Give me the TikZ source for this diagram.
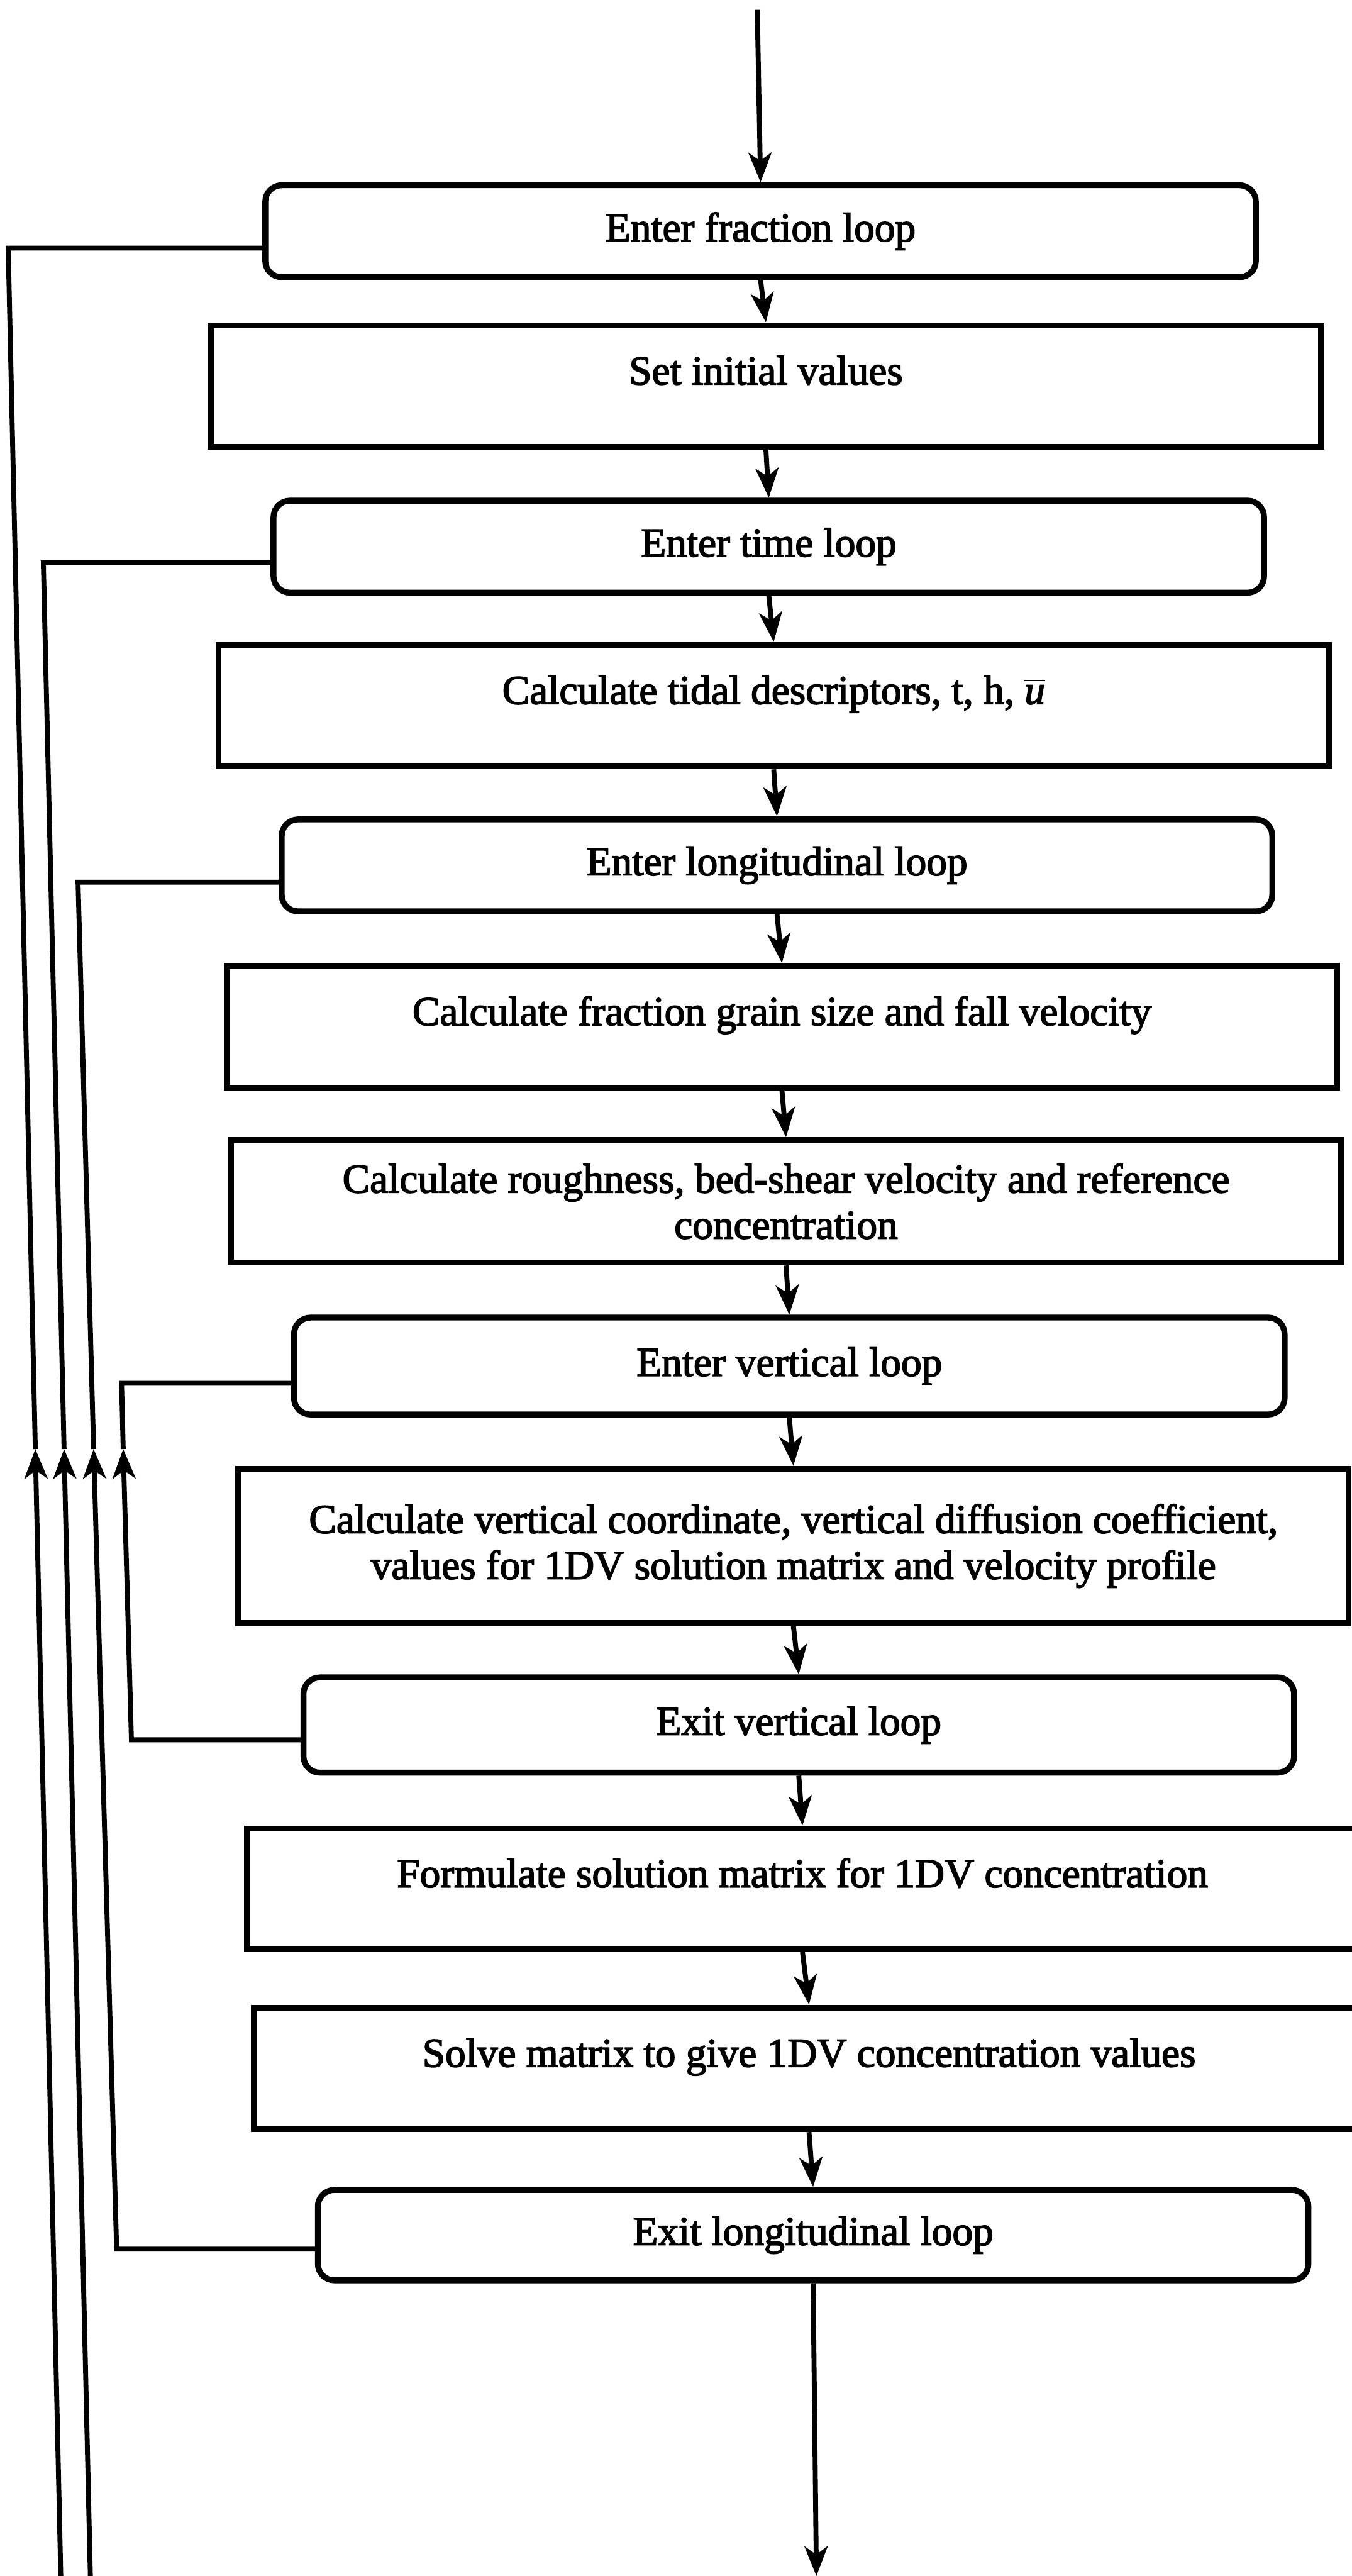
\documentclass[tikz,border=0pt]{standalone}
\usepackage{fontspec}
\setmainfont{Liberation Serif}[FakeBold=2.5]
\usetikzlibrary{arrows.meta,calc}

\begin{document}
\begin{tikzpicture}[x=0.5pt,y=-0.5pt,
  every node/.style={font=\fontsize{12.5pt}{14pt}\selectfont},
  loopbox/.style={draw,line width=1.8pt,rounded corners=5pt,
    minimum width=301.5pt,minimum height=28pt,inner sep=0pt},
  stepbox/.style={draw,line width=1.8pt,
    minimum width=338pt,minimum height=37pt,inner sep=0pt,
    text height=8.5pt,text depth=9.5pt},
  twoline/.style={draw,line width=1.8pt,
    minimum width=338pt,inner sep=0pt,align=center},
  flow/.style={line width=1.5pt,
    -{Stealth[length=9pt,width=7pt,inset=2.5pt]}},
  plain/.style={line width=1.5pt}]

\useasboundingbox (0,0) rectangle (823,1568);
\clip (0,0) rectangle (823,1568);

% main column
\node[loopbox] (fracloop) at (463,140.75) {Enter fraction loop};
\node[stepbox] (init) at (466.25,235) {Set initial values};
\node[loopbox] (timeloop) at (468,332.75) {Enter time loop};
\node[stepbox] (tidal) at (471,429.5) {Calculate tidal descriptors, t, h, $\overline{\textit{u}}$};
\node[loopbox] (longloop) at (473,526.75) {Enter longitudinal loop};
\node[stepbox] (grain) at (476,625) {Calculate fraction grain size and fall velocity};
\node[twoline,minimum height=37.25pt] (rough) at (478.5,731.25)
  {Calculate roughness, bed-shear velocity and reference\\concentration};
\node[loopbox,minimum height=29.5pt] (vertloop) at (480.5,831.5) {Enter vertical loop};
\node[twoline,minimum height=47pt] (calcvert) at (483,941)
  {Calculate vertical coordinate, vertical diffusion coefficient,\\values for 1DV solution matrix and velocity profile};
\node[loopbox,minimum height=29pt] (exitvert) at (486.25,1050) {Exit vertical loop};
\node[stepbox,minimum height=36.7pt] (formulate) at (488.5,1149.7) {Formulate solution matrix for 1DV concentration};
\node[stepbox] (solve) at (492.5,1259) {Solve matrix to give 1DV concentration values};
\node[loopbox,minimum height=27.5pt] (exitlong) at (495,1360.5) {Exit longitudinal loop};

% entry and exit of the column
\coordinate (top) at (461,6);
\coordinate (bot) at (497,1568);

\draw[flow] (top) -- (fracloop.north);
\draw[flow] (fracloop.south) -- (init.north);
\draw[flow] (init.south) -- (timeloop.north);
\draw[flow] (timeloop.south) -- (tidal.north);
\draw[flow] (tidal.south) -- (longloop.north);
\draw[flow] (longloop.south) -- (grain.north);
\draw[flow] (grain.south) -- (rough.north);
\draw[flow] (rough.south) -- (vertloop.north);
\draw[flow] (vertloop.south) -- (calcvert.north);
\draw[flow] (calcvert.south) -- (exitvert.north);
\draw[flow] (exitvert.south) -- (formulate.north);
\draw[flow] (formulate.south) -- (solve.north);
\draw[flow] (solve.south) -- (exitlong.north);
\draw[flow] (exitlong.south) -- (bot);

% fraction loop return
\coordinate (fbot) at (37,1568);
\coordinate (ftip) at (21.5,882);
\coordinate (fcor) at (5,151);
\draw[flow] (fbot) -- (ftip);
\draw[plain] (ftip) -- (fcor) -- (fcor -| fracloop.west);

% time loop return
\coordinate (tbot) at (55,1568);
\coordinate (ttip) at (39,882);
\coordinate (tcor) at (26.4,342.6);
\draw[flow] (tbot) -- (ttip);
\draw[plain] (ttip) -- (tcor) -- (tcor -| timeloop.west);

% longitudinal loop return
\coordinate (lbot) at (71,1369);
\coordinate (ltip) at (57,882);
\coordinate (lcor) at (47.5,537);
\draw[flow] (lbot -| exitlong.west) -- (lbot) -- (ltip);
\draw[plain] (ltip) -- (lcor) -- (lcor -| longloop.west);

% vertical loop return
\coordinate (vbot) at (80,1059);
\coordinate (vtip) at (75,882);
\coordinate (vcor) at (74,842);
\draw[flow] (vbot -| exitvert.west) -- (vbot) -- (vtip);
\draw[plain] (vtip) -- (vcor) -- (vcor -| vertloop.west);

\end{tikzpicture}
\end{document}
